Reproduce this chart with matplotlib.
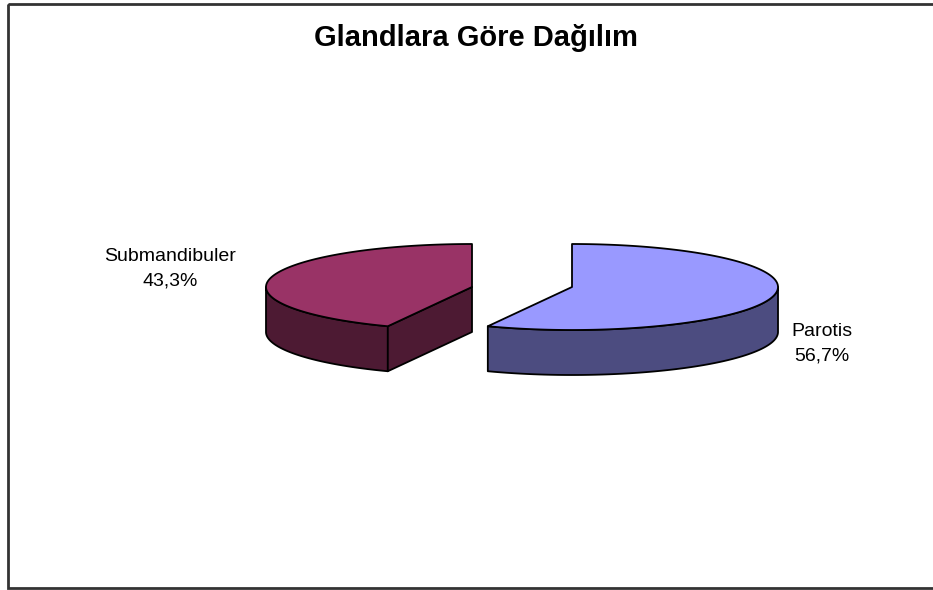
import numpy as np
import matplotlib.pyplot as plt
from matplotlib.patches import Polygon, Rectangle

plt.rcParams['font.family'] = ['Liberation Sans', 'DejaVu Sans']

# gland distribution (percent)
labels = ["Parotis", "Submandibuler"]
shares = [56.7, 43.3]
top_colors = ["#9999FF", "#993366"]
side_colors = ["#4C4C80", "#4D1A33"]

# pie geometry in pixel units
rx, ry, depth = 206, 43, 45
centers = [(572, 287), (472, 287)]
start_angle = 90.0


def rim(cx, cy, theta, drop=0.0):
    t = np.radians(theta)
    return np.column_stack([cx + rx * np.cos(t), cy - ry * np.sin(t) + drop])


fig = plt.figure(figsize=(9.33, 5.9), dpi=100)
ax = fig.add_axes([0, 0, 1, 1])
ax.set_xlim(0, 933)
ax.set_ylim(590, 0)
ax.axis("off")

# chart frame
ax.add_patch(Rectangle((8, 4), 960, 584, fill=False, edgecolor="#333333", lw=2.0))

edge = dict(edgecolor="black", lw=1.3, joinstyle="round")

# slices: first one runs clockwise from 12 o'clock, second fills the rest counterclockwise
total = sum(shares)
split = start_angle - 360.0 * shares[0] / total   # shared cut edge angle
spans = [(split, start_angle), (start_angle, split + 360.0)]

for (lo, hi), (cx, cy), top, side in zip(spans, centers, top_colors, side_colors):
    # outer wall: only the part on the front half of the ellipse
    a0, a1 = max(lo, 180.0), min(hi, 360.0)
    if lo < 0:
        a0, a1 = lo + 360.0, 360.0
    if a1 > a0:
        th = np.linspace(a0, a1, 120)
        upper = rim(cx, cy, th)
        lower = rim(cx, cy, th[::-1], depth)
        ax.add_patch(Polygon(np.vstack([upper, lower]), closed=True,
                             facecolor=side, **edge))
    # radial cut face that looks toward the viewer
    for ang, sign in ((lo, -1), (hi, 1)):
        normal = np.radians(ang + sign * 90)
        if np.sin(normal) < 0:
            p = rim(cx, cy, [ang])[0]
            face = np.array([[cx, cy], p, p + [0, depth], [cx, cy + depth]])
            ax.add_patch(Polygon(face, closed=True, facecolor=side, **edge))
    # top face
    th = np.linspace(lo, hi, 200)
    pts = np.vstack([[cx, cy], rim(cx, cy, th)])
    ax.add_patch(Polygon(pts, closed=True, facecolor=top, **edge))

# labels
ax.text(822, 344, f"{labels[0]}\n{shares[0]:.1f}%".replace(".", ","),
        ha="center", va="center", fontsize=14, linespacing=1.6)
ax.text(170, 269, f"{labels[1]}\n{shares[1]:.1f}%".replace(".", ","),
        ha="center", va="center", fontsize=14, linespacing=1.6)

ax.text(476, 38, "Glandlara Göre Dağılım", ha="center", va="center",
        fontsize=21, fontweight="bold")

fig.savefig("out.png", dpi=100)
